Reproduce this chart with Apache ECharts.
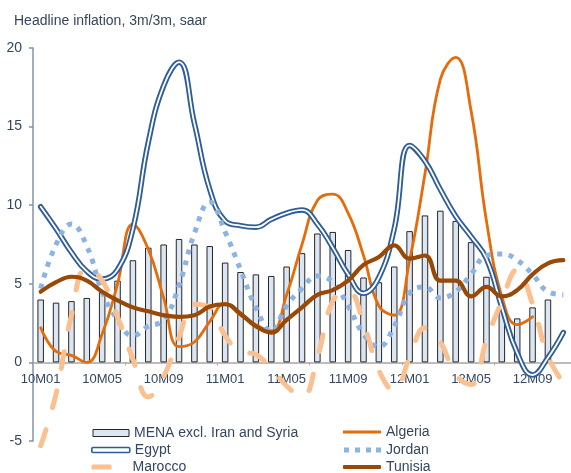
<!DOCTYPE html>
<html>
<head>
<meta charset="utf-8">
<script src="https://cdn.jsdelivr.net/npm/echarts@6/dist/echarts.min.js"></script>
<style>
  html, body { margin: 0; padding: 0; background: #fff; }
  #chart { width: 571px; height: 473px; }
</style>
</head>
<body>
<div id="chart"></div>
<script>
// Monthly categories, Jan 2010 .. Nov 2012
const months = [
  '10M01','10M02','10M03','10M04','10M05','10M06','10M07','10M08','10M09','10M10','10M11','10M12',
  '11M01','11M02','11M03','11M04','11M05','11M06','11M07','11M08','11M09','11M10','11M11','11M12',
  '12M01','12M02','12M03','12M04','12M05','12M06','12M07','12M08','12M09','12M10','12M11'
];

// Headline inflation, 3m/3m saar (%)
const mena = [4.0, 3.8, 3.9, 4.1, 4.5, 5.2, 6.5, 7.3, 7.5, 7.85, 7.5, 7.4,
  6.35, 5.75, 5.6, 5.5, 6.1, 6.95, 8.2, 8.3, 7.15, 5.4, 5.1, 6.1,
  8.35, 9.35, 9.65, 9.0, 7.65, 5.45, 3.4, 2.8, 3.5, 4.0, null];

const algeria = [2.2, 0.7, 0.45, 0.0, 1.8, 5.0, 8.8, 7.2, 4.1, 1.0, 1.3, 2.6,
  3.75, 3.0, 2.4, 2.0, 4.3, 7.5, 10.3, 10.7, 9.5, 6.8, 3.6, 3.0,
  6.5, 12.0, 18.0, 19.4, 16.0, 9.0, 4.2, 2.4, 2.9, null, null];

const egypt = [9.9, 8.5, 7.0, 5.8, 5.3, 5.9, 8.5, 14.0, 17.6, 19.1, 15.2, 11.0,
  9.0, 8.7, 8.6, 9.1, 9.5, 9.7, 8.8, 7.3, 5.6, 4.4, 5.4, 8.5,
  13.8, 12.8, 11.0, 9.3, 8.0, 6.6, 3.5, 0.6, -0.8, 0.3, 1.9];

const jordan = [4.7, 7.5, 8.8, 7.4, 4.5, 2.7, 1.7, 2.3, 2.7, 4.9, 8.2, 10.2,
  8.3, 5.9, 3.5, 2.0, 3.6, 4.7, 5.5, 5.1, 3.6, 1.8, 1.0, 2.3,
  4.4, 4.8, 4.1, 4.5, 5.6, 6.8, 6.9, 6.5, 5.6, 4.5, 4.3];

const marocco = [-5.3, -2.0, 3.0, 6.0, 5.2, 2.9, 0.2, -2.2, -0.9, 1.6, 3.7, 3.5,
  1.7, 0.7, 0.5, -0.4, -1.5, -2.2, 0.3, 3.9, 4.5, 2.5, -0.5, -1.8,
  0.3, 2.2, 1.3, -0.8, -1.4, 1.4, 3.9, 5.9, 3.7, 0.4, -1.3];

const tunisia = [4.5, 5.1, 5.45, 5.2, 4.5, 3.95, 3.5, 3.25, 3.0, 2.9, 3.0, 3.55,
  3.7, 3.1, 2.3, 1.9, 2.7, 3.5, 4.3, 4.6, 5.2, 6.2, 6.7, 7.45,
  6.6, 6.8, 5.2, 5.2, 4.2, 4.8, 4.2, 4.6, 5.6, 6.3, 6.5];

const yTicks = { min: -5, max: 20, step: 5 };

const C = {
  text: '#34475f',
  barFill: '#dce6f2',
  barEdge: '#262626',
  egypt: '#2f5d98',
  algeria: '#e46c0a',
  jordan: '#8db3e2',
  marocco: '#fac090',
  tunisia: '#984807'
};
const FONT = 'Liberation Sans, Arial, sans-serif';

// plot frame
const GRID = { left: 33, right: -13.25, top: 48, bottom: 32 };
const PLOT_H = 473 - GRID.top - GRID.bottom;
// the category axis sits on the zero line
const zeroOffset = -PLOT_H * (0 - yTicks.min) / (yTicks.max - yTicks.min);

function legendAt(left, top, name, opts) {
  return Object.assign({
    left: left, top: top, orient: 'vertical', padding: 0,
    itemWidth: 37, itemHeight: 6, selectedMode: false,
    textStyle: { color: C.text, fontSize: 14, fontFamily: FONT },
    data: [name]
  }, opts || {});
}

const chart = echarts.init(document.getElementById('chart'), null, { renderer: 'canvas' });

chart.setOption({
  animation: false,
  backgroundColor: '#fff',
  title: {
    text: 'Headline inflation, 3m/3m, saar',
    left: 14, top: 14, padding: 0,
    textStyle: { color: C.text, fontSize: 14, fontWeight: 'normal', fontFamily: FONT }
  },
  grid: Object.assign({ containLabel: false }, GRID),
  legend: [
    legendAt(92.5, 426, 'MENA excl. Iran and Syria', {
      itemHeight: 7, itemWidth: 36,
      data: [{ name: 'MENA excl. Iran and Syria', icon: 'rect',
        itemStyle: { color: C.barFill, borderColor: C.barEdge, borderWidth: 1 } }]
    }),
    legendAt(91, 443, 'Egypt', {
      itemHeight: 5, itemWidth: 38,
      data: [{ name: 'Egypt', icon: 'roundRect',
        itemStyle: { color: '#fff', borderColor: C.egypt, borderWidth: 1.6 } }]
    }),
    legendAt(91.5, 460, 'Marocco', {
      itemHeight: 5, itemWidth: 20,
      textStyle: { color: C.text, fontSize: 14, fontFamily: FONT, padding: [0, 0, 0, 16] },
      data: [{ name: 'Marocco', icon: 'roundRect', itemStyle: { color: C.marocco, borderWidth: 0 } }]
    }),
    legendAt(343, 425, 'Algeria', {
      itemHeight: 3, itemWidth: 38,
      data: [{ name: 'Algeria', icon: 'rect', itemStyle: { color: C.algeria, borderWidth: 0 } }]
    }),
    legendAt(344, 443, 'Jordan', {
      itemHeight: 5, itemWidth: 37,
      data: [{ name: 'Jordan',
        icon: 'path://M0,0h5v5h-5z M11,0h5v5h-5z M22,0h5v5h-5z M32,0h5v5h-5z',
        itemStyle: { color: C.jordan, borderWidth: 0 } }]
    }),
    legendAt(343, 460, 'Tunisia', {
      itemHeight: 4, itemWidth: 38,
      data: [{ name: 'Tunisia', icon: 'roundRect', itemStyle: { color: C.tunisia, borderWidth: 0 } }]
    })
  ],
  xAxis: {
    type: 'category',
    data: months,
    boundaryGap: true,
    position: 'bottom',
    offset: zeroOffset,
    axisLine: { onZero: false, lineStyle: { color: '#a6a6a6', width: 1.5 } },
    axisTick: { show: true, interval: 5, length: 3, inside: false, lineStyle: { color: '#a6a6a6' } },
    axisLabel: { interval: 3, margin: 11, color: C.text, fontSize: 13, fontFamily: FONT },
    splitLine: { show: false }
  },
  yAxis: {
    type: 'value',
    min: yTicks.min, max: yTicks.max, interval: yTicks.step,
    axisLine: { show: true, lineStyle: { color: '#8093ab', width: 1.5 } },
    axisTick: { show: true, length: 4, lineStyle: { color: '#8093ab', width: 1.5 } },
    axisLabel: { margin: 11, color: C.text, fontSize: 14, fontFamily: FONT },
    splitLine: { show: false }
  },
  series: [
    {
      name: 'MENA excl. Iran and Syria', type: 'bar', data: mena, barWidth: 6.5,
      itemStyle: { color: C.barFill, borderColor: C.barEdge, borderWidth: 1 }, z: 1
    },
    {
      name: 'Algeria', type: 'line', data: algeria, smooth: 0.45, symbol: 'none',
      connectNulls: false, clip: false,
      lineStyle: { color: C.algeria, width: 2.8, cap: 'round' }, z: 2
    },
    {
      name: 'Egypt', type: 'line', data: egypt, smooth: 0.45, symbol: 'none', clip: false,
      lineStyle: { color: C.egypt, width: 5.5, cap: 'round' }, z: 3
    },
    {
      name: 'Egypt', type: 'line', data: egypt, smooth: 0.45, symbol: 'none', clip: false,
      lineStyle: { color: '#fff', width: 1.8, cap: 'round' }, z: 4
    },
    {
      name: 'Jordan', type: 'line', data: jordan, smooth: 0.45, symbol: 'none', clip: false,
      lineStyle: { color: C.jordan, width: 5, type: [5, 6.5], cap: 'butt' }, z: 5
    },
    {
      name: 'Marocco', type: 'line', data: marocco, smooth: 0.45, symbol: 'none', clip: false,
      lineStyle: { color: C.marocco, width: 5, type: [17, 23], cap: 'round' }, z: 6
    },
    {
      name: 'Tunisia', type: 'line', data: tunisia, smooth: 0.45, symbol: 'none', clip: false,
      lineStyle: { color: C.tunisia, width: 4.2, cap: 'round' }, z: 7
    }
  ]
});
</script>
</body>
</html>
